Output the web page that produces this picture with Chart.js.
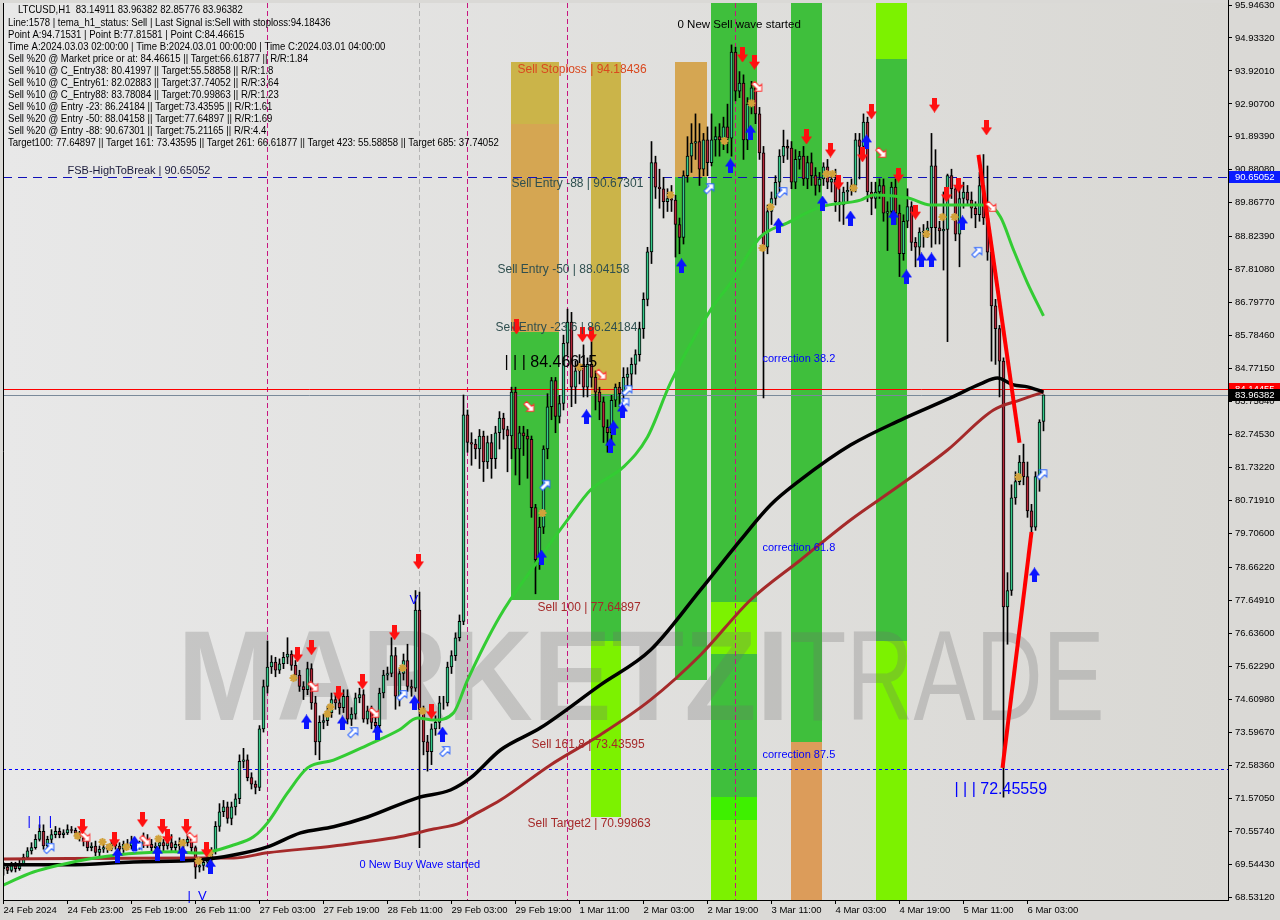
<!DOCTYPE html>
<html>
<head>
<meta charset="utf-8">
<title>LTCUSD H1</title>
<script src="https://cdn.jsdelivr.net/npm/chart.js@4.4.1/dist/chart.umd.min.js"></script>
<style>
  html, body { margin: 0; padding: 0; background: #dad9d6; }
  #wrap { width: 1280px; height: 920px; }
</style>
</head>
<body>
<div id="wrap"><canvas id="chart" width="1280" height="920"></canvas></div>
<script>
// ---- axis ticks ----
const xTickIdx = [0, 16, 32, 48, 64, 80, 96, 112, 128, 144, 160, 176, 192, 208, 224, 240, 256];
const xTickLabels = ["24 Feb 2024", "24 Feb 23:00", "25 Feb 19:00", "26 Feb 11:00", "27 Feb 03:00", "27 Feb 19:00",
  "28 Feb 11:00", "29 Feb 03:00", "29 Feb 19:00", "1 Mar 11:00", "2 Mar 03:00", "2 Mar 19:00", "3 Mar 11:00",
  "4 Mar 03:00", "4 Mar 19:00", "5 Mar 11:00", "6 Mar 03:00"];
const yTickValues = [95.94630, 94.93320, 93.92010, 92.90700, 91.89390, 90.88080, 89.86770, 88.82390, 87.81080,
  86.79770, 85.78460, 84.77150, 83.75840, 82.74530, 81.73220, 80.71910, 79.70600, 78.66220, 77.64910, 76.63600,
  75.62290, 74.60980, 73.59670, 72.58360, 71.57050, 70.55740, 69.54430, 68.53120];

// ---- H1 candles (bar index 0 = 24 Feb 07:00) ----
const opens = [69.4, 69.45, 69.35, 69.5, 69.4, 69.55, 69.75, 69.95, 70.05, 70.3,
  70.55, 70.1, 70.3, 70.45, 70.55, 70.45, 70.5, 70.6, 70.58, 70.5,
  70.35, 70.25, 70.05, 70.1, 69.9, 70.0, 70.05, 70.0, 70.15, 70.1,
  70.0, 70.15, 70.1, 70.2, 70.1, 70.15, 70.3, 70.15, 70.05, 70.1,
  70.2, 70.1, 70.2, 70.05, 70.15, 70.1, 70.2, 70.3, 70.05, 69.45,
  69.5, 69.6, 69.7, 69.95, 70.7, 71.15, 71.3, 70.95, 71.3, 71.55,
  72.7, 72.75, 72.2, 72.0, 71.9, 73.7, 75.0, 75.6, 75.75, 75.5,
  75.7, 75.9, 76.0, 75.65, 75.35, 75.0, 74.9, 75.55, 74.5, 73.3,
  73.9, 73.95, 74.2, 74.6, 74.5, 74.35, 74.7, 74.0, 74.15, 74.65,
  74.75, 74.0, 74.25, 73.9, 73.8, 74.8, 75.35, 75.4, 75.95, 74.7,
  75.4, 75.8, 75.0, 74.95, 77.35, 74.3, 73.3, 73.0, 73.7, 73.9,
  74.5, 74.5, 75.6, 75.95, 76.5, 77.0, 83.35, 82.5, 82.45, 82.3,
  82.7, 81.9, 82.5, 82.0, 82.8, 83.25, 82.9, 82.7, 84.05, 82.3,
  82.8, 82.7, 82.6, 80.5, 78.9, 79.9, 82.3, 83.6, 84.4, 83.3,
  83.7, 85.55, 86.2, 84.2, 84.7, 84.9, 84.2, 84.9, 84.5, 84.05,
  83.75, 82.97, 82.8, 83.8, 84.2, 84.0, 84.5, 84.6, 84.9, 85.2,
  86.0, 86.9, 88.36, 91.1, 90.35, 90.3, 89.9, 90.0, 89.95, 89.2,
  88.8, 90.7, 91.3, 91.7, 91.75, 90.9, 91.8, 91.1, 91.8, 91.9,
  91.8, 92.2, 91.85, 94.5, 93.3, 93.55, 91.8, 92.9, 93.4, 92.6,
  91.4, 88.5, 89.6, 90.0, 90.5, 91.3, 91.6, 91.55, 90.5, 91.2,
  91.3, 90.6, 91.1, 90.7, 90.4, 90.6, 90.97, 90.5, 90.6, 89.9,
  89.8, 90.2, 90.25, 90.4, 91.8, 91.6, 92.35, 90.2, 90.0, 90.2,
  90.4, 89.55, 89.6, 90.35, 89.55, 88.3, 89.3, 89.75, 88.65, 88.5,
  88.97, 89.0, 89.1, 91.0, 89.1, 89.0, 89.05, 90.7, 90.3, 88.9,
  90.0, 90.2, 89.95, 89.7, 89.5, 90.4, 89.4, 88.35, 86.7, 86.0,
  85.0, 77.45, 77.95, 80.8, 81.3, 81.9, 81.45, 80.4, 79.9, 81.45, 83.14911];
const highs = [69.6, 69.55, 69.6, 69.6, 69.7, 69.85, 70.05, 70.2, 70.45, 70.75,
  70.75, 70.4, 70.6, 70.7, 70.65, 70.6, 70.75, 70.7, 70.65, 70.55,
  70.45, 70.35, 70.2, 70.25, 70.1, 70.15, 70.15, 70.25, 70.3, 70.2,
  70.25, 70.3, 70.4, 70.3, 70.25, 70.5, 70.45, 70.3, 70.2, 70.3,
  70.3, 70.35, 70.45, 70.25, 70.35, 70.3, 70.45, 70.35, 70.1, 69.7,
  69.75, 69.85, 70.05, 70.85, 71.4, 71.5, 71.45, 71.45, 71.7, 72.9,
  73.1, 72.9, 72.35, 72.1, 73.8, 75.2, 76.4, 75.95, 75.9, 75.85,
  76.05, 76.5, 76.1, 75.8, 75.5, 75.15, 75.75, 75.7, 74.7, 74.1,
  74.15, 74.4, 74.8, 74.75, 74.65, 74.9, 74.9, 74.35, 74.8, 74.95,
  74.9, 74.4, 74.4, 74.05, 74.95, 75.5, 75.6, 76.5, 76.2, 75.55,
  76.0, 76.3, 75.2, 77.95, 77.9, 74.4, 73.5, 73.85, 74.1, 74.7,
  74.7, 75.75, 76.1, 76.65, 77.2, 83.96, 83.5, 82.8, 82.6, 82.9,
  82.85, 82.7, 82.75, 83.0, 83.45, 83.4, 83.0, 84.2, 84.2, 83.0,
  83.0, 82.9, 82.7, 80.6, 80.2, 82.4, 84.0, 84.5, 84.5, 83.95,
  85.8, 86.6, 86.5, 85.0, 85.2, 85.5, 85.1, 85.6, 84.7, 84.2,
  83.9, 83.2, 83.95, 84.3, 84.35, 84.8, 84.8, 85.1, 85.35, 86.2,
  87.1, 88.5, 91.75, 91.3, 90.9, 90.65, 90.3, 90.4, 90.1, 89.4,
  90.85, 91.9, 92.3, 92.6, 92.3, 92.0, 92.2, 92.6, 92.2, 92.3,
  92.5, 92.9, 94.72, 94.65, 93.9, 93.8, 93.1, 93.6, 93.5, 92.8,
  91.6, 89.8, 90.2, 90.7, 91.5, 92.1, 91.8, 91.75, 91.5, 91.45,
  91.6, 91.3, 91.4, 90.95, 90.8, 91.1, 91.2, 90.8, 90.9, 90.3,
  90.35, 90.5, 90.6, 92.0, 92.0, 92.6, 92.5, 90.5, 90.5, 90.6,
  90.6, 89.9, 90.5, 90.6, 89.8, 89.5, 90.3, 89.9, 88.8, 89.1,
  89.2, 89.3, 92.0, 91.5, 89.3, 90.2, 90.75, 90.9, 90.35, 90.3,
  90.5, 90.4, 90.2, 89.9, 90.8, 91.35, 91.0, 88.5, 86.9, 86.1,
  85.1, 78.5, 81.2, 81.6, 82.1, 82.45, 81.9, 80.6, 81.6, 83.2, 83.96382];
const lows = [69.2, 69.25, 69.3, 69.3, 69.35, 69.5, 69.7, 69.85, 70.0, 70.25,
  70.0, 70.0, 70.2, 70.35, 70.35, 70.35, 70.45, 70.5, 70.4, 70.25,
  70.1, 69.95, 69.95, 69.8, 69.8, 69.9, 69.9, 69.95, 70.0, 69.9,
  69.9, 70.0, 70.0, 70.0, 70.0, 70.05, 70.05, 69.95, 69.95, 70.0,
  69.95, 70.0, 69.95, 69.95, 69.95, 70.0, 70.1, 69.9, 69.1, 69.3,
  69.35, 69.45, 69.55, 69.85, 70.55, 71.0, 70.8, 70.75, 71.05, 71.4,
  72.5, 72.1, 71.85, 71.7, 71.8, 73.6, 74.8, 75.4, 75.3, 75.4,
  75.55, 75.7, 75.5, 75.2, 74.85, 74.6, 74.75, 74.3, 72.9, 72.75,
  73.7, 73.8, 74.05, 74.3, 74.15, 74.2, 73.85, 73.8, 74.0, 74.5,
  73.9, 73.85, 73.7, 73.6, 73.7, 74.65, 75.2, 75.3, 74.3, 74.4,
  75.2, 74.85, 74.7, 74.85, 70.05, 72.9, 72.4, 72.6, 73.5, 73.7,
  74.3, 74.4, 75.4, 75.8, 76.4, 76.9, 82.2, 81.8, 82.0, 81.7,
  81.3, 81.7, 81.4, 81.7, 82.3, 82.6, 81.6, 82.0, 81.5, 81.2,
  82.1, 81.4, 80.2, 77.85, 78.6, 79.7, 82.0, 83.2, 82.8, 83.1,
  83.5, 85.2, 83.6, 83.7, 84.3, 83.9, 83.9, 84.2, 83.5, 83.2,
  82.5, 82.2, 82.3, 83.6, 83.6, 83.8, 84.2, 84.2, 84.6, 85.0,
  85.7, 86.7, 88.0, 90.0, 89.7, 89.4, 89.6, 89.6, 88.2, 88.3,
  88.6, 90.5, 90.8, 91.2, 90.4, 90.7, 90.7, 91.0, 91.3, 91.3,
  91.5, 91.4, 91.3, 93.0, 93.1, 91.2, 91.5, 92.6, 92.3, 91.2,
  83.87, 88.3, 89.2, 89.8, 90.2, 91.1, 91.2, 90.3, 90.3, 90.9,
  90.4, 90.3, 90.4, 90.1, 90.2, 90.4, 90.3, 90.2, 89.6, 89.3,
  89.2, 89.9, 90.1, 90.2, 90.6, 91.4, 89.9, 89.5, 89.7, 90.0,
  89.3, 88.4, 89.4, 89.2, 87.6, 88.1, 89.1, 88.4, 87.9, 88.2,
  88.5, 88.8, 88.5, 88.6, 88.6, 87.8, 85.6, 90.0, 88.7, 87.9,
  89.7, 89.8, 89.4, 89.1, 89.3, 89.2, 88.1, 85.0, 84.9, 83.9,
  71.6, 76.3, 77.8, 80.6, 81.2, 81.2, 80.2, 79.6, 79.8, 81.0, 82.85776];
const closes = [69.45, 69.35, 69.5, 69.4, 69.55, 69.75, 69.95, 70.05, 70.3, 70.55,
  70.1, 70.3, 70.45, 70.55, 70.45, 70.5, 70.6, 70.58, 70.5, 70.35,
  70.25, 70.05, 70.1, 69.9, 70.0, 70.05, 70.0, 70.15, 70.1, 70.0,
  70.15, 70.1, 70.2, 70.1, 70.15, 70.3, 70.15, 70.05, 70.1, 70.2,
  70.1, 70.2, 70.05, 70.15, 70.1, 70.2, 70.3, 70.05, 69.45, 69.5,
  69.6, 69.7, 69.95, 70.7, 71.15, 71.3, 70.95, 71.3, 71.55, 72.7,
  72.75, 72.2, 72.0, 71.9, 73.7, 75.0, 75.6, 75.75, 75.5, 75.7,
  75.9, 76.0, 75.65, 75.35, 75.0, 74.9, 75.55, 74.5, 73.3, 73.9,
  73.95, 74.2, 74.6, 74.5, 74.35, 74.7, 74.0, 74.15, 74.65, 74.75,
  74.0, 74.25, 73.9, 73.8, 74.8, 75.35, 75.4, 75.95, 74.7, 75.4,
  75.8, 75.0, 74.95, 77.35, 74.3, 73.3, 73.0, 73.7, 73.9, 74.5,
  74.5, 75.6, 75.95, 76.5, 77.0, 83.35, 82.5, 82.45, 82.3, 82.7,
  81.9, 82.5, 82.0, 82.8, 83.25, 82.9, 82.7, 84.05, 82.3, 82.8,
  82.7, 82.6, 80.5, 78.9, 79.9, 82.3, 83.6, 84.4, 83.3, 83.7,
  85.55, 86.2, 84.2, 84.7, 84.9, 84.2, 84.9, 84.5, 84.05, 83.75,
  82.97, 82.8, 83.8, 84.2, 84.0, 84.5, 84.6, 84.9, 85.2, 86.0,
  86.9, 88.36, 91.1, 90.35, 90.3, 89.9, 90.0, 89.95, 89.2, 88.8,
  90.7, 91.3, 91.7, 91.75, 90.9, 91.8, 91.1, 91.8, 91.9, 91.8,
  92.2, 91.85, 94.5, 93.3, 93.55, 91.8, 92.9, 93.4, 92.6, 91.4,
  88.5, 89.6, 90.0, 90.5, 91.3, 91.6, 91.55, 90.5, 91.2, 91.3,
  90.6, 91.1, 90.7, 90.4, 90.6, 90.97, 90.5, 90.6, 89.9, 89.8,
  90.2, 90.25, 90.4, 91.8, 91.6, 92.35, 90.2, 90.0, 90.2, 90.4,
  89.55, 89.6, 90.35, 89.55, 88.3, 89.3, 89.75, 88.65, 88.5, 88.97,
  89.0, 89.1, 91.0, 89.1, 89.0, 89.05, 90.7, 90.3, 88.9, 90.0,
  90.2, 89.95, 89.7, 89.5, 90.4, 89.4, 88.35, 86.7, 86.0, 85.0,
  77.45, 77.95, 80.8, 81.3, 81.9, 81.45, 80.4, 79.9, 81.45, 83.13, 83.96382];

// ---- moving averages (bar index / price) ----
const fastIdx = [0, 7.5, 20, 28.5, 34, 42.5, 49, 57.5, 62.5, 66, 71, 76, 82.5, 91, 99, 103.5, 107.5, 112.5, 116, 124,
  132.5, 141, 146.75, 155, 161, 166.75, 176.75, 181.75, 189.25, 196, 204.25, 214.25, 217.5, 226, 231.75, 246, 249.25, 252.5, 256, 260];
const fastVal = [68.90, 69.30, 69.67, 69.82, 69.88, 69.92, 69.88, 70.13, 70.38, 70.81, 71.73, 72.50, 72.74, 73.20, 73.67, 74.03,
  73.97, 74.19, 75.20, 77.14, 78.68, 80.12, 81.04, 81.75, 82.67, 84.33, 86.57, 87.40, 88.82, 89.25, 89.74, 89.95, 90.11, 90.02,
  89.80, 89.80, 89.43, 88.42, 87.40, 86.39];
const midIdx = [0, 16, 32.5, 49, 57.5, 66, 74.25, 82.5, 91, 103.5, 111.75, 116.75, 124.25, 134.25, 149.25, 161.75, 174.25,
  184.25, 191.75, 199.25, 211.75, 224.25, 236.75, 244.25, 248.5, 252.5, 256, 260];
const midVal = [69.52, 69.52, 69.61, 69.67, 69.82, 70.07, 70.50, 70.69, 70.99, 71.58, 71.82, 72.19, 73.05, 73.73, 75.05, 76.12,
  77.97, 79.50, 80.58, 81.35, 82.42, 83.19, 83.87, 84.30, 84.48, 84.27, 84.21, 84.05];
const slowIdx = [0, 49, 57.5, 66, 82.5, 99, 107.5, 114.25, 116.75, 124.25, 136.75, 149.25, 161.75, 174.25, 186.75, 199.25,
  211.75, 224.25, 236, 247.5, 254.25, 260];
const slowVal = [69.70, 69.73, 69.73, 69.89, 70.10, 70.38, 70.62, 70.81, 71.00, 71.51, 72.59, 73.52, 74.59, 75.97, 77.66, 78.89,
  80.12, 81.20, 82.27, 83.50, 83.81, 84.05];

// ---- red wave lines ----
const waveAIdx = [243.75, 254];
const waveAVal = [91.34, 82.49];
const waveBIdx = [249.75, 257];
const waveBVal = [72.50, 79.75];

// ---- signal markers (bar index / price) ----
const sellIdx = [19.75, 27.75, 34.75, 39.75, 41, 45.75, 50.75, 73.5, 77, 83.75, 89.75, 97.75, 103.75, 107, 128.25, 144.75, 147,
  184.75, 187.75, 200.75, 206.75, 208.75, 217, 214.75, 223.75, 228, 232.75, 235.75, 238.75, 245.75];
const sellPx = [70.69, 70.29, 70.90, 70.69, 70.38, 70.69, 69.98, 75.97, 76.19, 74.80, 75.14, 76.65, 78.83, 74.22, 86.05, 85.81, 85.81,
  94.41, 94.19, 91.89, 91.49, 90.48, 92.66, 91.34, 90.72, 89.58, 92.87, 90.11, 90.41, 92.17];
const buyIdx = [28.5, 32.75, 38.5, 44.75, 51.75, 75.75, 84.75, 93.5, 102.75, 109.75, 134.5, 145.75, 152.5, 151.75, 154.75,
  169.5, 181.75, 186.75, 193.75, 204.75, 211.75, 215.75, 222.5, 225.75, 229.5, 232, 239.75, 257.75];
const buyPx = [69.82, 70.19, 69.88, 69.88, 69.48, 73.91, 73.88, 73.60, 74.50, 73.54, 78.98, 83.29, 82.95, 82.42, 83.47,
  87.93, 91.00, 92.04, 89.18, 89.86, 89.40, 91.74, 89.43, 87.59, 88.11, 88.11, 89.25, 78.43];
const hollowUpIdx = [11.5, 33.5, 87.5, 99.75, 110.5, 135.5, 156, 155.25, 176.5, 194.75, 243.5, 259.75];
const hollowUpPx = [70.04, 70.07, 73.60, 74.74, 73.02, 81.20, 84.11, 83.72, 90.32, 90.20, 88.36, 81.53];
const hollowDnIdx = [20.5, 35.5, 47.25, 77.5, 92.75, 131.5, 149.5, 188.5, 219.5, 247];
const hollowDnPx = [70.38, 70.26, 70.35, 74.99, 74.19, 83.59, 84.58, 93.43, 91.40, 89.74];
const starIdx = [18.5, 24.75, 26.5, 30.75, 38.75, 44.75, 48.75, 51.5, 72.5, 81, 81.75, 99.75, 104.75, 134.75, 144,
  166.75, 180.25, 187, 191.75, 189.75, 205.75, 207.25, 212.5, 230.75, 234.75, 237.75, 253.75];
const starPx = [70.41, 70.22, 70.07, 70.07, 70.32, 70.19, 69.64, 69.88, 75.26, 74.16, 74.37, 75.57, 74.25, 80.33, 84.82,
  90.11, 91.77, 92.93, 89.74, 88.48, 90.75, 90.75, 90.32, 88.91, 89.43, 89.43, 81.44];

// ---- zones: bar range + price bands ----
const zoneFrom = [126.75, 146.75, 167.75, 176.75, 196.75, 218];
const zoneTo = [138.75, 154.5, 175.75, 188.5, 204.5, 225.75];
const zoneBands = [
  [[94.18436, 92.3, 'gold'], [92.3, 85.9, 'amber'], [85.9, 77.64897, 'green']],
  [[94.18436, 84.0, 'gold'], [84.0, 76.4, 'green'], [76.4, 70.99863, 'lime']],
  [[94.18436, 90.65052, 'amber'], [90.65052, 75.21165, 'green']],
  [[96.1, 77.6, 'green'], [77.6, 76.0, 'lime'], [76.0, 71.6, 'green'], [71.6, 70.9, 'bright'], [70.9, 68.3, 'lime']],
  [[96.1, 73.3, 'green'], [73.3, 68.3, 'orange']],
  [[96.1, 94.3, 'lime'], [94.3, 76.4, 'green'], [76.4, 68.3, 'lime']]
];
const zoneColors = { gold: '#cbb449', amber: '#d5a652', green: '#3fbf3c', lime: '#7cf200', bright: '#3ef000', orange: '#dc9c5a' };

// ---- levels and vertical markers ----
const highToBreak = 90.65052;
const redLevel = 84.14455;
const bidLevel = 83.96382;
const lowLevel = 72.45559;
const sepIdx = [65.75, 115.75, 140.75, 182.75];
const greySepIdx = [103.75];

const levelNames = ["Sell Stoploss | 94.18436", "Sell Entry -88 | 90.67301", "Sell Entry -50 | 88.04158",
  "Sell Entry -23.6 | 86.24184", "Sell 100 | 77.64897", "Sell 161.8 | 73.43595", "Sell Target2 | 70.99863"];
const levelValues = [94.18436, 90.67301, 88.04158, 86.24184, 77.64897, 73.43595, 70.99863];
const levelAnchor = [128.5, 127, 123.5, 123, 133.5, 132, 131];
const levelColor = ['#d9481f', '#2f4f4f', '#2f4f4f', '#2f4f4f', '#a52a2a', '#a52a2a', '#a52a2a'];

const noteText = ["0 New Sell wave started", "0 New Buy Wave started", "correction 38.2", "correction 61.8",
  "correction 87.5", "| | | 72.45559", "FSB-HighToBreak | 90.65052", "|  |  |", "|  V", "V", "| | | 84.46615"];
const noteIdx = [168.5, 89, 189.75, 189.75, 189.75, 237.75, 16, 6, 46, 101.5, 125.25];
const notePrice = [95.33, 69.52, 85.07, 79.26, 72.90, 71.82, 90.85, 70.84, 68.56, 77.66, 84.97];
const noteColor = ['#000', '#0000ff', '#0000ff', '#0000ff', '#0000ff', '#0000ff', '#1a1a3a', '#0000ff', '#0000ff', '#0000ff', '#000'];
const noteSize = [11.5, 11, 11, 11, 11, 16, 11, 13, 13, 13, 16];

const infoLines = [
  "LTCUSD,H1  83.14911 83.96382 82.85776 83.96382",
  "Line:1578 | tema_h1_status: Sell | Last Signal is:Sell with stoploss:94.18436",
  "Point A:94.71531 | Point B:77.81581 | Point C:84.46615",
  "Time A:2024.03.03 02:00:00 | Time B:2024.03.01 00:00:00 | Time C:2024.03.01 04:00:00",
  "Sell %20 @ Market price or at: 84.46615 || Target:66.61877 || R/R:1.84",
  "Sell %10 @ C_Entry38: 80.41997 || Target:55.58858 || R/R:1.8",
  "Sell %10 @ C_Entry61: 82.02883 || Target:37.74052 || R/R:3.64",
  "Sell %10 @ C_Entry88: 83.78084 || Target:70.99863 || R/R:1.23",
  "Sell %10 @ Entry -23: 86.24184 || Target:73.43595 || R/R:1.61",
  "Sell %20 @ Entry -50: 88.04158 || Target:77.64897 || R/R:1.69",
  "Sell %20 @ Entry -88: 90.67301 || Target:75.21165 || R/R:4.4",
  "Target100: 77.64897 || Target 161: 73.43595 || Target 261: 66.61877 || Target 423: 55.58858 || Target 685: 37.74052"
];

const FONT = '"Liberation Sans", Arial, sans-serif';
const pts = (xs, ys) => xs.map((x, i) => ({ x, y: ys[i] }));

// marker images
function makeArrow(fill, up) {
  const c = document.createElement('canvas');
  c.width = 11; c.height = 15;
  const g = c.getContext('2d');
  const shape = [[3, 0], [8, 0], [8, 7], [11, 7], [5.5, 15], [0, 7], [3, 7]];
  g.beginPath();
  shape.forEach(([px, py], i) => {
    const yy = up ? 15 - py : py;
    if (i) g.lineTo(px, yy); else g.moveTo(px, yy);
  });
  g.closePath();
  g.fillStyle = fill;
  g.fill();
  return c;
}
function makeHollow(stroke, angle) {
  const c = document.createElement('canvas');
  c.width = 14; c.height = 14;
  const g = c.getContext('2d');
  g.translate(7, 7);
  g.rotate(angle);
  g.beginPath();
  g.moveTo(-6, -2); g.lineTo(1, -2); g.lineTo(1, -5); g.lineTo(6, 0);
  g.lineTo(1, 5); g.lineTo(1, 2); g.lineTo(-6, 2); g.closePath();
  g.fillStyle = '#ffffff';
  g.fill();
  g.strokeStyle = stroke;
  g.lineWidth = 1;
  g.stroke();
  return c;
}
const redDown = makeArrow('#ff1010', false);
const blueUp = makeArrow('#0a14ff', true);
const hollowBlue = makeHollow('#1f5bff', -Math.PI / 4);
const hollowRed = makeHollow('#ff2a2a', Math.PI / 4);

function drawText(ctx, s, x, y, size, color, base) {
  ctx.font = size + 'px ' + FONT;
  ctx.fillStyle = color;
  ctx.textAlign = 'left';
  ctx.textBaseline = base || 'middle';
  ctx.fillText(s, x, y);
}

function hLine(ctx, a, py, color, dash) {
  ctx.beginPath();
  ctx.setLineDash(dash || []);
  ctx.strokeStyle = color;
  ctx.lineWidth = 1;
  ctx.moveTo(a.left, Math.round(py) + 0.5);
  ctx.lineTo(a.right, Math.round(py) + 0.5);
  ctx.stroke();
  ctx.setLineDash([]);
}

const mtPlugin = {
  id: 'mt',
  beforeDraw(chart) {
    const { ctx, chartArea: a } = chart;
    ctx.save();
    ctx.fillStyle = '#dad9d6';
    ctx.fillRect(0, 0, chart.width, chart.height);
    const g = ctx.createLinearGradient(a.left, 0, a.right, 0);
    g.addColorStop(0, '#e8e8e8');
    g.addColorStop(1, '#d9d8d4');
    ctx.fillStyle = g;
    ctx.fillRect(a.left, a.top, a.right - a.left, a.bottom - a.top);
    ctx.restore();
  },
  beforeDatasetsDraw(chart) {
    const { ctx, chartArea: a, scales: { x, y } } = chart;
    ctx.save();
    ctx.beginPath();
    ctx.rect(a.left, a.top, a.right - a.left, a.bottom - a.top);
    ctx.clip();

    // signal zones
    zoneFrom.forEach((from, k) => {
      const x0 = Math.round(x.getPixelForValue(from));
      const x1 = Math.round(x.getPixelForValue(zoneTo[k]));
      zoneBands[k].forEach(([top, bottom, kind]) => {
        const y0 = Math.round(y.getPixelForValue(top));
        const y1 = Math.round(y.getPixelForValue(bottom));
        ctx.fillStyle = zoneColors[kind];
        ctx.fillRect(x0, y0, x1 - x0, y1 - y0);
      });
    });

    // watermark
    const base = y.getPixelForValue(73.97);
    ctx.globalAlpha = 0.27;
    ctx.fillStyle = '#707070';
    ctx.textBaseline = 'alphabetic';
    ctx.textAlign = 'left';
    ctx.font = 'bold 128px ' + FONT;
    ctx.fillText('MARKETZI', x.getPixelForValue(43.5), base, 612);
    ctx.font = '128px ' + FONT;
    ctx.fillText('TRADE', x.getPixelForValue(196.5), base, 315);
    ctx.globalAlpha = 1;

    // day separators
    ctx.lineWidth = 1;
    ctx.setLineDash([5, 3]);
    ctx.strokeStyle = '#c8147f';
    sepIdx.forEach(v => {
      const px = Math.round(x.getPixelForValue(v)) + 0.5;
      ctx.beginPath(); ctx.moveTo(px, a.top); ctx.lineTo(px, a.bottom); ctx.stroke();
    });
    ctx.strokeStyle = '#b4b4b4';
    greySepIdx.forEach(v => {
      const px = Math.round(x.getPixelForValue(v)) + 0.5;
      ctx.beginPath(); ctx.moveTo(px, a.top); ctx.lineTo(px, a.bottom); ctx.stroke();
    });
    ctx.setLineDash([]);

    // horizontal levels
    hLine(ctx, a, y.getPixelForValue(highToBreak), '#1010b8', [9, 6]);
    hLine(ctx, a, y.getPixelForValue(lowLevel), '#0000ff', [3, 3]);
    hLine(ctx, a, y.getPixelForValue(redLevel), '#ff0000');
    hLine(ctx, a, y.getPixelForValue(bidLevel), '#7a8a9a');
    ctx.restore();
  },
  afterDatasetsDraw(chart) {
    const { ctx, scales: { x, y } } = chart;
    ctx.save();
    levelNames.forEach((s, i) => {
      drawText(ctx, s, x.getPixelForValue(levelAnchor[i]), y.getPixelForValue(levelValues[i]) + 1, 12, levelColor[i], 'top');
    });
    noteText.forEach((s, i) => {
      drawText(ctx, s, x.getPixelForValue(noteIdx[i]), y.getPixelForValue(notePrice[i]), noteSize[i], noteColor[i]);
    });
    // chart comment block, narrow like the terminal font
    infoLines.forEach((s, i) => {
      ctx.save();
      ctx.translate(i === 0 ? 18 : 8, i === 0 ? 10 : 23 + (i - 1) * 12);
      ctx.scale(0.87, 1);
      drawText(ctx, s, 0, 0, 11, '#000');
      ctx.restore();
    });
    ctx.restore();
  },
  afterDraw(chart) {
    const { ctx, chartArea: a, scales: { y } } = chart;
    ctx.save();
    // frame
    ctx.strokeStyle = '#000';
    ctx.lineWidth = 1;
    ctx.beginPath();
    ctx.moveTo(a.left + 0.5, a.top); ctx.lineTo(a.left + 0.5, a.bottom + 0.5);
    ctx.lineTo(a.right + 0.5, a.bottom + 0.5); ctx.lineTo(a.right + 0.5, 0);
    ctx.stroke();
    // price tags on the axis
    const tags = [[highToBreak, '#0b1cff'], [redLevel, '#ff0000'], [bidLevel, '#000000']];
    tags.forEach(([v, fill]) => {
      const py = Math.round(y.getPixelForValue(v));
      ctx.fillStyle = fill;
      ctx.fillRect(a.right + 1, py - 6, chart.width - a.right - 1, 12);
      drawText(ctx, v.toFixed(5), a.right + 7, py, 9.5, '#ffffff');
    });
    ctx.restore();
  }
};

const candleColors = closes.map((c, i) => (c >= opens[i] ? '#36c98a' : '#b4283a'));

new Chart(document.getElementById('chart').getContext('2d'), {
  type: 'bar',
  data: {
    datasets: [
      {
        type: 'line', label: 'wave A', data: pts(waveAIdx, waveAVal),
        borderColor: '#ff0000', borderWidth: 4, pointRadius: 0, order: 2
      },
      {
        type: 'line', label: 'wave B', data: pts(waveBIdx, waveBVal),
        borderColor: '#ff0000', borderWidth: 4, pointRadius: 0, order: 2
      },
      {
        type: 'line', label: 'sell', data: pts(sellIdx, sellPx), showLine: false,
        pointStyle: redDown, pointRadius: 6, order: 1
      },
      {
        type: 'line', label: 'buy', data: pts(buyIdx, buyPx), showLine: false,
        pointStyle: blueUp, pointRadius: 6, order: 1
      },
      {
        type: 'line', label: 'hollow up', data: pts(hollowUpIdx, hollowUpPx), showLine: false,
        pointStyle: hollowBlue, pointRadius: 6, order: 1
      },
      {
        type: 'line', label: 'hollow down', data: pts(hollowDnIdx, hollowDnPx), showLine: false,
        pointStyle: hollowRed, pointRadius: 6, order: 1
      },
      {
        type: 'line', label: 'stars', data: pts(starIdx, starPx), showLine: false,
        pointStyle: 'star', pointRadius: 4, pointBorderColor: '#d2a23a', pointBorderWidth: 2, order: 1
      },
      {
        type: 'line', label: 'fast', data: pts(fastIdx, fastVal), borderColor: '#33cc33',
        borderWidth: 3, pointRadius: 0, cubicInterpolationMode: 'monotone', order: 3
      },
      {
        type: 'line', label: 'mid', data: pts(midIdx, midVal), borderColor: '#000000',
        borderWidth: 3.5, pointRadius: 0, cubicInterpolationMode: 'monotone', order: 3
      },
      {
        type: 'line', label: 'slow', data: pts(slowIdx, slowVal), borderColor: '#a52a2a',
        borderWidth: 3, pointRadius: 0, cubicInterpolationMode: 'monotone', order: 3
      },
      {
        label: 'bodies', data: closes.map((c, i) => ({ x: i, y: [opens[i], c] })),
        backgroundColor: candleColors, borderColor: '#000', borderWidth: 1, borderSkipped: false,
        barThickness: 3, grouped: false, order: 5
      },
      {
        label: 'wicks', data: closes.map((c, i) => ({ x: i, y: [lows[i], highs[i]] })),
        backgroundColor: '#000', barThickness: 1, grouped: false, order: 6
      }
    ]
  },
  options: {
    responsive: false,
    animation: false,
    events: [],
    layout: { autoPadding: false, padding: { left: 3, top: 3, right: 0, bottom: 0 } },
    plugins: { legend: { display: false }, tooltip: { enabled: false } },
    scales: {
      x: {
        type: 'linear', min: -0.125, max: 306.125, offset: false,
        grid: { display: true, offset: false, drawOnChartArea: false, drawTicks: true, tickLength: 4, color: '#000' },
        border: { display: true, color: '#000' },
        afterBuildTicks: scale => { scale.ticks = xTickIdx.map(v => ({ value: v })); },
        afterFit: scale => { scale.height = 20; scale.paddingLeft = 0; scale.paddingRight = 0; },
        ticks: {
          autoSkip: false, maxRotation: 0, align: 'start', padding: 1,
          color: '#000', font: { family: FONT, size: 9.5 },
          callback: (v, i) => xTickLabels[i]
        }
      },
      y: {
        position: 'right', min: 68.439, max: 96.008, beginAtZero: false,
        grid: { display: true, drawOnChartArea: false, drawTicks: true, tickLength: 4, color: '#000' },
        border: { display: true, color: '#000' },
        afterBuildTicks: scale => { scale.ticks = yTickValues.map(v => ({ value: v })); },
        afterFit: scale => { scale.width = 52; scale.paddingTop = 0; scale.paddingBottom = 0; },
        ticks: {
          autoSkip: false, padding: 3, color: '#000', font: { family: FONT, size: 9.5 },
          callback: v => v.toFixed(5)
        }
      }
    }
  },
  plugins: [mtPlugin]
});
</script>
</body>
</html>
